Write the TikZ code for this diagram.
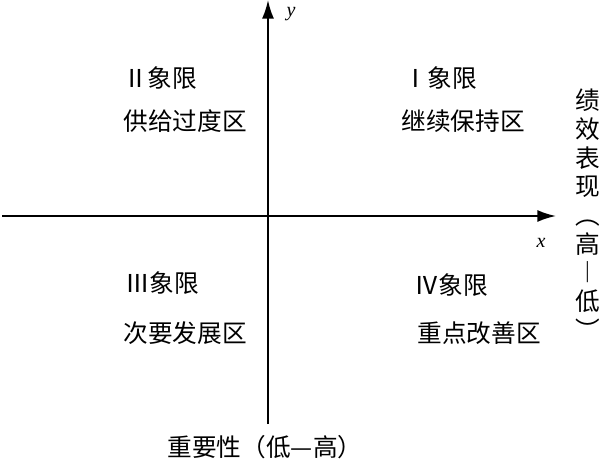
\documentclass[tikz,border=0pt]{standalone}
\usepackage{fontspec}
\setmainfont{Noto Sans CJK SC}
\usetikzlibrary{arrows.meta}

\begin{document}
\begin{tikzpicture}[
        x=0.75pt, y=-0.75pt,
        axis/.style={line width=1.4pt, -{Latex[length=14pt,width=9pt]}},
        zone/.style={font=\fontsize{18.5}{20}\selectfont, inner sep=0pt},
        axlabel/.style={font=\itshape\fontsize{15}{16}\selectfont, inner sep=0pt}]
    \useasboundingbox (0,0) rectangle (604,468);

    % axes
    \coordinate (xstart) at (2,216);
    \coordinate (xend) at (556,216);
    \coordinate (ystart) at (268,424);
    \coordinate (yend) at (268,0);
    \draw[axis] (xstart) -- (xend);
    \draw[axis] (ystart) -- (yend);
    \node[axlabel] (ylab) at (291,14) {\fontspec{Liberation Serif}y};
    \node[axlabel] (xlab) at (541,243) {\fontspec{Liberation Serif}x};

    % quadrants
    \node[zone] (q2) at (160,78) {Ⅱ象限};
    \node[zone] (q2t) at (185,121) {供给过度区};
    \node[zone] (q1) at (440,78) {Ⅰ象限};
    \node[zone] (q1t) at (463,121) {继续保持区};
    \node[zone] (q3) at (162,283) {Ⅲ象限};
    \node[zone] (q3t) at (185,333) {次要发展区};
    \node[zone] (q4) at (451,285) {Ⅳ象限};
    \node[zone] (q4t) at (479,333) {重点改善区};

    % axis titles
    \node[zone] (imp) at (265,447) {重要性（低—高）};
    \node[zone, align=center, font=\fontsize{18.5}{21.5}\selectfont] (perf) at (588,214)
        {绩\\效\\表\\现\\︵\\高\\︱\\低\\︶};
\end{tikzpicture}
\end{document}
